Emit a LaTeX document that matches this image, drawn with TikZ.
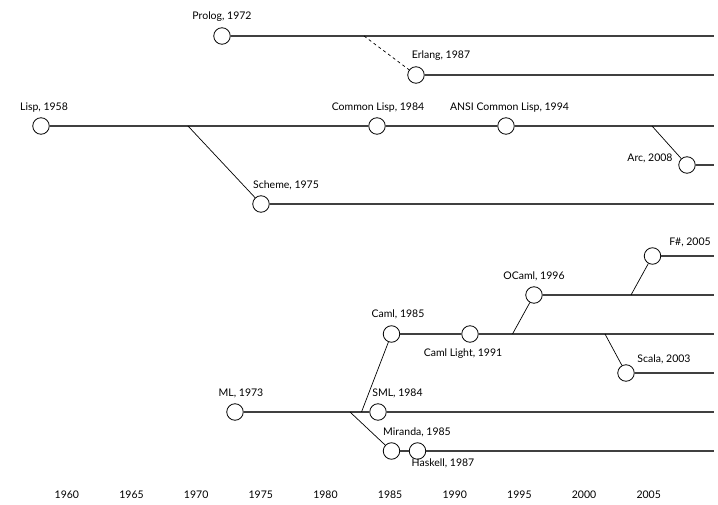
\documentclass[tikz,border=0pt]{standalone}
\usepackage{fontspec}
\setmainfont{Lato}
\begin{document}
\begin{tikzpicture}[x=1pt,y=-1pt,
  lang/.style={circle,draw=black,fill=white,line width=0.8pt,minimum size=16.5pt,inner sep=0pt},
  lbl/.style={font=\fontsize{10.5}{12}\selectfont,inner sep=0pt,text height=7pt,text depth=2pt},
  yr/.style={font=\fontsize{10.5}{12}\selectfont,inner sep=0pt,text height=7pt,text depth=2pt},
  track/.style={draw=black!75,line width=1.1pt},
  branch/.style={draw=black,line width=0.7pt},
  derived/.style={draw=black,line width=0.7pt,dashed,dash pattern=on 3pt off 3pt}]
\useasboundingbox (0,0) rectangle (718,505);
% end points of tracks
\coordinate (e1) at (714,36);
\coordinate (e2) at (714,75);
\coordinate (e3) at (714,126);
\coordinate (e4) at (714,165);
\coordinate (e5) at (714,204);
\coordinate (e6) at (714,256);
\coordinate (e7) at (714,295);
\coordinate (e8) at (714,334);
\coordinate (e9) at (714,373);
\coordinate (e10) at (714,412);
\coordinate (e11) at (714,451);
% branch points
\coordinate (bErl) at (364,36);
\coordinate (bSch) at (188,126);
\coordinate (bArc) at (652,126);
\coordinate (bMir) at (350,412);
\coordinate (bCaml) at (361.5,412);
\coordinate (bOC) at (512.5,334);
\coordinate (bSca) at (605,334);
\coordinate (bFs) at (631,295);
% languages
\node[lang] (prolog) at (222,36) {};
\node[lang] (erlang) at (416,75) {};
\node[lang] (lisp) at (41,126) {};
\node[lang] (cl) at (377,126) {};
\node[lang] (ansi) at (506,126) {};
\node[lang] (arc) at (687,165) {};
\node[lang] (scheme) at (261,204) {};
\node[lang] (fsharp) at (652.5,256) {};
\node[lang] (ocaml) at (534,295) {};
\node[lang] (caml) at (391.5,334) {};
\node[lang] (camll) at (470,334) {};
\node[lang] (scala) at (626,373) {};
\node[lang] (ml) at (235,412) {};
\node[lang] (sml) at (378,412) {};
\node[lang] (miranda) at (391.5,451) {};
\node[lang] (haskell) at (417.5,451) {};
% tracks
\draw[track] (prolog) -- (e1);
\draw[track] (erlang) -- (e2);
\draw[track] (lisp) -- (cl) -- (ansi) -- (e3);
\draw[track] (arc) -- (e4);
\draw[track] (scheme) -- (e5);
\draw[track] (fsharp) -- (e6);
\draw[track] (ocaml) -- (e7);
\draw[track] (caml) -- (camll) -- (e8);
\draw[track] (scala) -- (e9);
\draw[track] (ml) -- (sml) -- (e10);
\draw[track] (miranda) -- (haskell) -- (e11);
% branches
\draw[derived] (bErl) -- (erlang);
\draw[branch] (bSch) -- (scheme);
\draw[branch] (bArc) -- (arc);
\draw[branch] (bMir) -- (miranda);
\draw[branch] (bCaml) -- (caml);
\draw[branch] (bOC) -- (ocaml);
\draw[branch] (bSca) -- (scala);
\draw[branch] (bFs) -- (fsharp);
% labels
\node[lbl] (tprolog) at (222,17) {Prolog, 1972};
\node[lbl] (terlang) at (441,56) {Erlang, 1987};
\node[lbl] (tlisp) at (44,108) {Lisp, 1958};
\node[lbl] (tcl) at (378,108) {Common Lisp, 1984};
\node[lbl] (tansi) at (509.5,108) {ANSI Common Lisp, 1994};
\node[lbl] (tarc) at (650,159) {Arc, 2008};
\node[lbl] (tscheme) at (286,186) {Scheme, 1975};
\node[lbl] (tfsharp) at (690,243) {F\#, 2005};
\node[lbl] (tocaml) at (534,277) {OCaml, 1996};
\node[lbl] (tcaml) at (398,315) {Caml, 1985};
\node[lbl] (tcamll) at (463,354) {Caml Light, 1991};
\node[lbl] (tscala) at (664,360) {Scala, 2003};
\node[lbl] (tml) at (241,394) {ML, 1973};
\node[lbl] (tsml) at (397.5,394) {SML, 1984};
\node[lbl] (tmiranda) at (417,433) {Miranda, 1985};
\node[lbl] (thaskell) at (443,464) {Haskell, 1987};
% axis years
\foreach \y in {1960,1965,...,2005}
  \node[yr] (y\y) at ({41+(\y-1958)*12.93},496) {\y};
\end{tikzpicture}
\end{document}
